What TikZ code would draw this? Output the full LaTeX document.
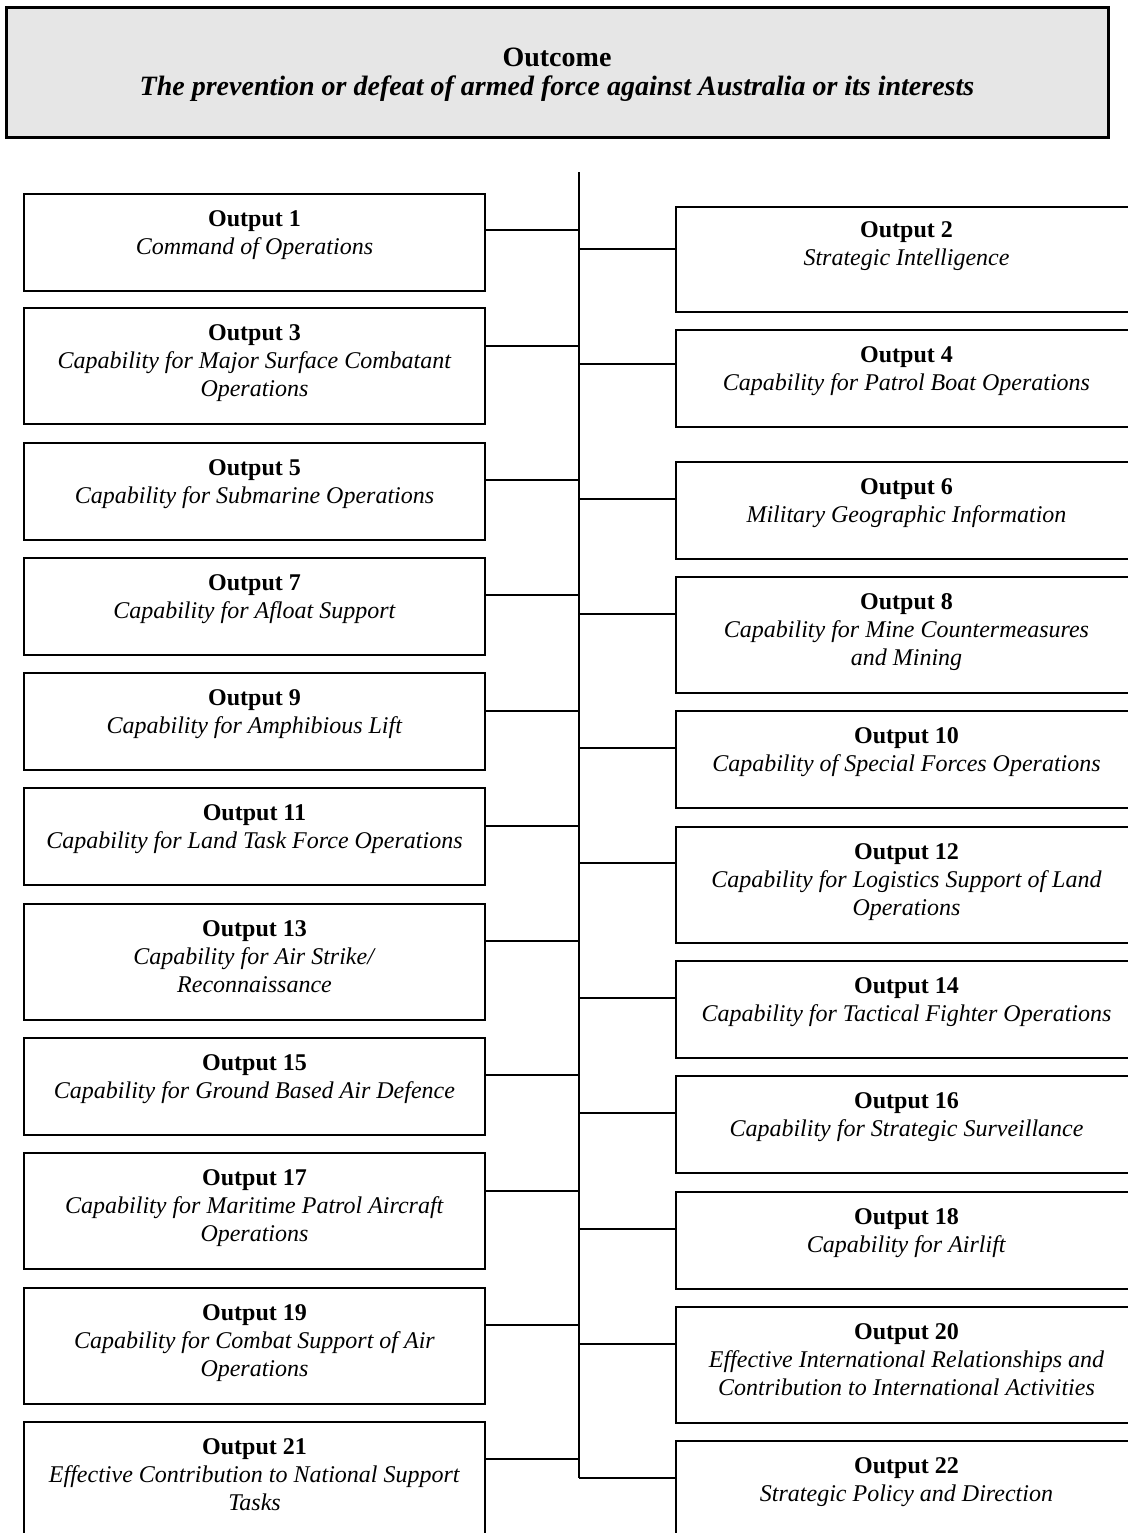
\documentclass[tikz,border=0pt]{standalone}
\usepackage{fontspec}
\setmainfont{Liberation Serif}
\definecolor{outcomegray}{HTML}{E6E6E6}

\begin{document}
\begin{tikzpicture}[x=0.5pt, y=-0.5pt,
	outbox/.style={draw, line width=1pt, inner sep=0pt, minimum width=230.5pt, anchor=north west},
	twoline/.style={minimum height=48.5pt},
	threeline/.style={minimum height=58pt},
	outtext/.style={anchor=base, align=center, inner sep=0pt, font=\fontsize{12}{14}\selectfont},
	link/.style={line width=0.8pt}]
	\useasboundingbox (0,0) rectangle (1128,1533);

	% outcome at the top
	\node [draw, line width=1.5pt, fill=outcomegray, inner sep=0pt, minimum width=551pt, minimum height=65pt] (outcome) at (557,72) {};
	\node [anchor=base, align=center, inner sep=0pt, font=\fontsize{14}{14.5}\selectfont\bfseries] (outcometext) at ([yshift=-45pt]outcome.north) {Outcome\\\textit{The prevention or defeat of armed force against Australia or its interests}};

	% spine
	\coordinate (spinetop) at (579,172);
	\coordinate (spinebot) at (579,1478);
	\draw [link] (spinetop) -- (spinebot);

	% left column
	\node [outbox, twoline] (o1) at (23,193) {};
	\node [outtext] (o1text) at ([yshift=-30.5pt]o1.north) {\textbf{Output 1}\\\textit{Command of Operations}};
	\node [outbox, threeline] (o3) at (23,307) {};
	\node [outtext] (o3text) at ([yshift=-44.5pt]o3.north) {\textbf{Output 3}\\\textit{Capability for Major Surface Combatant}\\\textit{Operations}};
	\node [outbox, twoline] (o5) at (23,442) {};
	\node [outtext] (o5text) at ([yshift=-30.5pt]o5.north) {\textbf{Output 5}\\\textit{Capability for Submarine Operations}};
	\node [outbox, twoline] (o7) at (23,557) {};
	\node [outtext] (o7text) at ([yshift=-30.5pt]o7.north) {\textbf{Output 7}\\\textit{Capability for Afloat Support}};
	\node [outbox, twoline] (o9) at (23,672) {};
	\node [outtext] (o9text) at ([yshift=-30.5pt]o9.north) {\textbf{Output 9}\\\textit{Capability for Amphibious Lift}};
	\node [outbox, twoline] (o11) at (23,787) {};
	\node [outtext] (o11text) at ([yshift=-30.5pt]o11.north) {\textbf{Output 11}\\\textit{Capability for Land Task Force Operations}};
	\node [outbox, threeline] (o13) at (23,903) {};
	\node [outtext] (o13text) at ([yshift=-44.5pt]o13.north) {\textbf{Output 13}\\\textit{Capability for Air Strike/}\\\textit{Reconnaissance}};
	\node [outbox, twoline] (o15) at (23,1037) {};
	\node [outtext] (o15text) at ([yshift=-30.5pt]o15.north) {\textbf{Output 15}\\\textit{Capability for Ground Based Air Defence}};
	\node [outbox, threeline] (o17) at (23,1152) {};
	\node [outtext] (o17text) at ([yshift=-44.5pt]o17.north) {\textbf{Output 17}\\\textit{Capability for Maritime Patrol Aircraft}\\\textit{Operations}};
	\node [outbox, threeline] (o19) at (23,1287) {};
	\node [outtext] (o19text) at ([yshift=-44.5pt]o19.north) {\textbf{Output 19}\\\textit{Capability for Combat Support of Air}\\\textit{Operations}};
	\node [outbox, threeline] (o21) at (23,1421) {};
	\node [outtext] (o21text) at ([yshift=-44.5pt]o21.north) {\textbf{Output 21}\\\textit{Effective Contribution to National Support}\\\textit{Tasks}};

	% right column
	\node [outbox, minimum height=52.5pt] (o2) at (675,206) {};
	\node [outtext] (o2text) at ([yshift=-29.5pt]o2.north) {\textbf{Output 2}\\\textit{Strategic Intelligence}};
	\node [outbox, twoline] (o4) at (675,329) {};
	\node [outtext] (o4text) at ([yshift=-30.5pt]o4.north) {\textbf{Output 4}\\\textit{Capability for Patrol Boat Operations}};
	\node [outbox, twoline] (o6) at (675,461) {};
	\node [outtext] (o6text) at ([yshift=-30.5pt]o6.north) {\textbf{Output 6}\\\textit{Military Geographic Information}};
	\node [outbox, threeline] (o8) at (675,576) {};
	\node [outtext] (o8text) at ([yshift=-44.5pt]o8.north) {\textbf{Output 8}\\\textit{Capability for Mine Countermeasures}\\\textit{and Mining}};
	\node [outbox, twoline] (o10) at (675,710) {};
	\node [outtext] (o10text) at ([yshift=-30.5pt]o10.north) {\textbf{Output 10}\\\textit{Capability of Special Forces Operations}};
	\node [outbox, threeline] (o12) at (675,826) {};
	\node [outtext] (o12text) at ([yshift=-44.5pt]o12.north) {\textbf{Output 12}\\\textit{Capability for Logistics Support of Land}\\\textit{Operations}};
	\node [outbox, twoline] (o14) at (675,960) {};
	\node [outtext] (o14text) at ([yshift=-30.5pt]o14.north) {\textbf{Output 14}\\\textit{Capability for Tactical Fighter Operations}};
	\node [outbox, twoline] (o16) at (675,1075) {};
	\node [outtext] (o16text) at ([yshift=-30.5pt]o16.north) {\textbf{Output 16}\\\textit{Capability for Strategic Surveillance}};
	\node [outbox, twoline] (o18) at (675,1191) {};
	\node [outtext] (o18text) at ([yshift=-30.5pt]o18.north) {\textbf{Output 18}\\\textit{Capability for Airlift}};
	\node [outbox, threeline] (o20) at (675,1306) {};
	\node [outtext] (o20text) at ([yshift=-44.5pt]o20.north) {\textbf{Output 20}\\\textit{Effective International Relationships and}\\\textit{Contribution to International Activities}};
	\node [outbox, twoline] (o22) at (675,1440) {};
	\node [outtext] (o22text) at ([yshift=-30.5pt]o22.north) {\textbf{Output 22}\\\textit{Strategic Policy and Direction}};

	% connectors, left to spine
	\draw [link] (o1.north east) ++(0,37) coordinate (c1) -- (c1 -| spinetop);
	\draw [link] (o3.north east) ++(0,39) coordinate (c3) -- (c3 -| spinetop);
	\draw [link] (o5.north east) ++(0,38) coordinate (c5) -- (c5 -| spinetop);
	\draw [link] (o7.north east) ++(0,38) coordinate (c7) -- (c7 -| spinetop);
	\draw [link] (o9.north east) ++(0,39) coordinate (c9) -- (c9 -| spinetop);
	\draw [link] (o11.north east) ++(0,39) coordinate (c11) -- (c11 -| spinetop);
	\draw [link] (o13.north east) ++(0,38) coordinate (c13) -- (c13 -| spinetop);
	\draw [link] (o15.north east) ++(0,38) coordinate (c15) -- (c15 -| spinetop);
	\draw [link] (o17.north east) ++(0,39) coordinate (c17) -- (c17 -| spinetop);
	\draw [link] (o19.north east) ++(0,38) coordinate (c19) -- (c19 -| spinetop);
	\draw [link] (o21.north east) ++(0,38) coordinate (c21) -- (c21 -| spinetop);

	% connectors, spine to right
	\draw [link] (o2.north west) ++(0,43) coordinate (c2) -- (c2 -| spinetop);
	\draw [link] (o4.north west) ++(0,35) coordinate (c4) -- (c4 -| spinetop);
	\draw [link] (o6.north west) ++(0,38) coordinate (c6) -- (c6 -| spinetop);
	\draw [link] (o8.north west) ++(0,38) coordinate (c8) -- (c8 -| spinetop);
	\draw [link] (o10.north west) ++(0,38) coordinate (c10) -- (c10 -| spinetop);
	\draw [link] (o12.north west) ++(0,37) coordinate (c12) -- (c12 -| spinetop);
	\draw [link] (o14.north west) ++(0,38) coordinate (c14) -- (c14 -| spinetop);
	\draw [link] (o16.north west) ++(0,38) coordinate (c16) -- (c16 -| spinetop);
	\draw [link] (o18.north west) ++(0,38) coordinate (c18) -- (c18 -| spinetop);
	\draw [link] (o20.north west) ++(0,38) coordinate (c20) -- (c20 -| spinetop);
	\draw [link] (o22.north west) ++(0,38) coordinate (c22) -- (spinebot);
\end{tikzpicture}
\end{document}
